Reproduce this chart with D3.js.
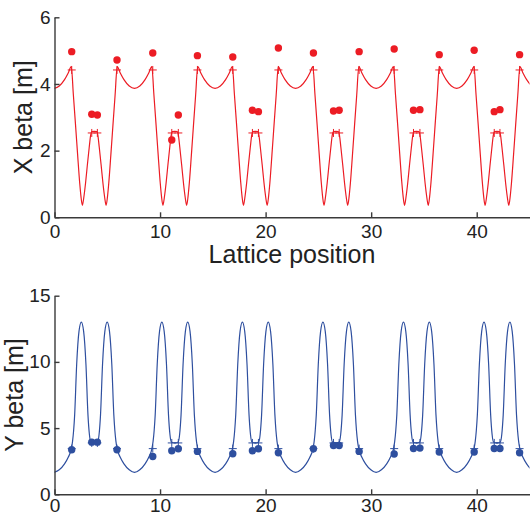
<!DOCTYPE html>
<html>
<head>
<meta charset="utf-8">
<script src="https://cdn.jsdelivr.net/npm/d3@7"></script>
<style>
  body { margin: 0; background: #fff; }
  svg text { font-family: "Liberation Sans", Arial, sans-serif; fill: #222; }
  .axis path, .axis line { stroke: #3a3a3a; stroke-width: 1.4; }
</style>
</head>
<body>
<div id="chart"></div>
<script>
  var xProfS = [0, 0.5, 1.0, 1.35, 1.64, 1.84, 2.04, 2.24, 2.44, 2.56, 2.69, 2.82, 2.99, 3.16, 3.34, 3.48, 3.58,
    3.815, 4.05, 4.15, 4.29, 4.47, 4.64, 4.81, 4.94, 5.07, 5.19, 5.39, 5.59, 5.79, 5.99, 6.28, 6.63, 7.13, 7.63];
  var xProfB = [3.87, 3.94, 4.13, 4.33, 4.52, 3.66, 2.78, 1.88, 1.02, 0.62, 0.36, 0.58, 1.02, 1.56, 2.10, 2.47, 2.57,
    2.58, 2.57, 2.47, 2.10, 1.56, 1.02, 0.58, 0.36, 0.62, 1.02, 1.88, 2.78, 3.66, 4.52, 4.33, 4.13, 3.94, 3.87];

  var yProfS = [0, 0.5, 1.0, 1.35, 1.64, 1.76, 1.86, 1.96, 2.15, 2.37, 2.59, 2.81, 3.03, 3.22, 3.36, 3.49,
    3.815, 4.14, 4.27, 4.41, 4.60, 4.82, 5.04, 5.26, 5.48, 5.67, 5.77, 5.87, 5.99, 6.28, 6.63, 7.13, 7.63];
  var yProfB = [1.65, 1.85, 2.3, 2.8, 3.42, 4.0, 4.8, 6.0, 9.8, 12.3, 13.0, 12.3, 9.8, 6.0, 4.5, 3.95,
    3.88, 3.95, 4.5, 6.0, 9.8, 12.3, 13.0, 12.3, 9.8, 6.0, 4.8, 4.0, 3.42, 2.8, 2.3, 1.85, 1.65];

  // where each cell starts along the lattice
  var cellStart = [-0.05, 7.58, 15.21, 22.84, 30.47, 38.10];

  // BPM positions, model values there (+) and measurements (dots)
  var bpmPos = [1.63, 3.53, 4.06, 5.92, 9.31, 11.11, 11.73, 13.54, 16.89, 18.75, 19.32, 21.21,
    24.53, 26.43, 26.97, 28.86, 32.18, 34.01, 34.62, 36.45, 39.76, 41.66, 42.2, 44.06];
  var modelX = [4.42, 2.53, 2.53, 4.42, 4.42, 2.53, 2.53, 4.42, 4.42, 2.53, 2.53, 4.42,
    4.42, 2.53, 2.53, 4.42, 4.42, 2.53, 2.53, 4.42, 4.42, 2.53, 2.53, 4.42];
  var modelY = [3.45, 3.88, 3.88, 3.45, 3.45, 3.88, 3.88, 3.45, 3.45, 3.88, 3.88, 3.45,
    3.45, 3.88, 3.88, 3.45, 3.45, 3.88, 3.88, 3.45, 3.45, 3.88, 3.88, 3.45];
  var measX = [4.97, 3.09, 3.07, 4.72, 4.93, 2.32, 3.07, 4.85, 4.81, 3.21, 3.17, 5.08,
    4.93, 3.19, 3.21, 4.97, 5.05, 3.21, 3.23, 4.88, 5.01, 3.17, 3.23, 4.88];
  var measY = [3.36, 3.94, 3.94, 3.36, 2.86, 3.29, 3.44, 3.24, 3.06, 3.29, 3.44, 3.14,
    3.44, 3.69, 3.69, 3.24, 3.04, 3.46, 3.49, 3.19, 3.19, 3.46, 3.46, 3.14];

  var xTicks = [0, 10, 20, 30, 40];
  var topTicks = [0, 2, 4, 6];
  var botTicks = [0, 5, 10, 15];

  var red = "#ec1c24";
  var blue = "#2e4f9f";

  var svgWidth = 530, svgHeight = 516;
  var left = 54.5, plotW = 475;

  var svg = d3.select("#chart").append("svg")
    .attr("width", svgWidth)
    .attr("height", svgHeight);

  var xScale = d3.scaleLinear().domain([0, 45]).range([left, left + plotW]);
  var fmt = d3.format("d");

  // lay the cell profile out along the lattice
  function buildCurve(profS, profB) {
    var pts = [];
    cellStart.forEach(function(c, i) {
      profS.forEach(function(s, j) {
        if (i > 0 && j === 0) return;
        pts.push({ s: c + s, b: profB[j] });
      });
    });
    return pts;
  }

  function drawPanel(opts) {
    var y = d3.scaleLinear().domain(opts.domain).range([opts.y0, opts.y1]);

    var clipId = "clip-" + opts.name;
    svg.append("clipPath").attr("id", clipId)
      .append("rect")
      .attr("x", left).attr("y", opts.y1 - 10)
      .attr("width", plotW).attr("height", opts.y0 - opts.y1 + 10);

    var g = svg.append("g");

    var line = d3.line()
      .x(d => xScale(d.s))
      .y(d => y(d.b))
      .curve(d3.curveMonotoneX);

    g.append("path")
      .datum(opts.curve)
      .attr("clip-path", "url(#" + clipId + ")")
      .attr("fill", "none")
      .attr("stroke", opts.color)
      .attr("stroke-width", 1.2)
      .attr("d", line);

    g.selectAll("path.plus")
      .data(bpmPos)
      .enter()
      .append("path")
      .attr("class", "plus")
      .attr("transform", (d, i) => `translate(${xScale(d)}, ${y(opts.model[i])})`)
      .attr("d", "M-4,0H4M0,-4V4")
      .attr("stroke", opts.color)
      .attr("stroke-width", 1);

    g.selectAll("circle")
      .data(bpmPos)
      .enter()
      .append("circle")
      .attr("cx", d => xScale(d))
      .attr("cy", (d, i) => y(opts.meas[i]))
      .attr("r", 3.7)
      .attr("fill", opts.color);

    svg.append("g")
      .attr("class", "axis")
      .attr("transform", `translate(0, ${opts.y0})`)
      .call(d3.axisBottom(xScale).tickValues(xTicks).tickFormat(fmt)
        .tickSizeInner(-5).tickSizeOuter(0).tickPadding(opts.xPad))
      .selectAll("text").attr("font-size", 19).attr("fill", "#222");

    svg.append("g")
      .attr("class", "axis")
      .attr("transform", `translate(${left}, 0)`)
      .call(d3.axisLeft(y).tickValues(opts.ticks).tickFormat(fmt)
        .tickSizeInner(-5).tickSizeOuter(0).tickPadding(4))
      .selectAll("text").attr("font-size", 19).attr("fill", "#222");

    svg.selectAll(".axis text").attr("font-family", "'Liberation Sans', Arial, sans-serif");

    svg.append("text")
      .attr("transform", `translate(${opts.labelX}, ${(opts.y0 + opts.y1) / 2}) rotate(-90)`)
      .attr("text-anchor", "middle")
      .attr("font-size", 25)
      .text(opts.label);
  }

  drawPanel({
    name: "x", domain: [0, 6], y0: 217.3, y1: 17.3, ticks: topTicks, xPad: 7,
    curve: buildCurve(xProfS, xProfB), model: modelX, meas: measX,
    color: red, label: "X beta [m]", labelX: 32
  });

  drawPanel({
    name: "y", domain: [0, 15], y0: 494.3, y1: 295.7, ticks: botTicks, xPad: 4,
    curve: buildCurve(yProfS, yProfB), model: modelY, meas: measY,
    color: blue, label: "Y beta [m]", labelX: 23
  });

  svg.append("text")
    .attr("x", left + plotW / 2)
    .attr("y", 263)
    .attr("text-anchor", "middle")
    .attr("font-size", 25)
    .text("Lattice position");
</script>
</body>
</html>
